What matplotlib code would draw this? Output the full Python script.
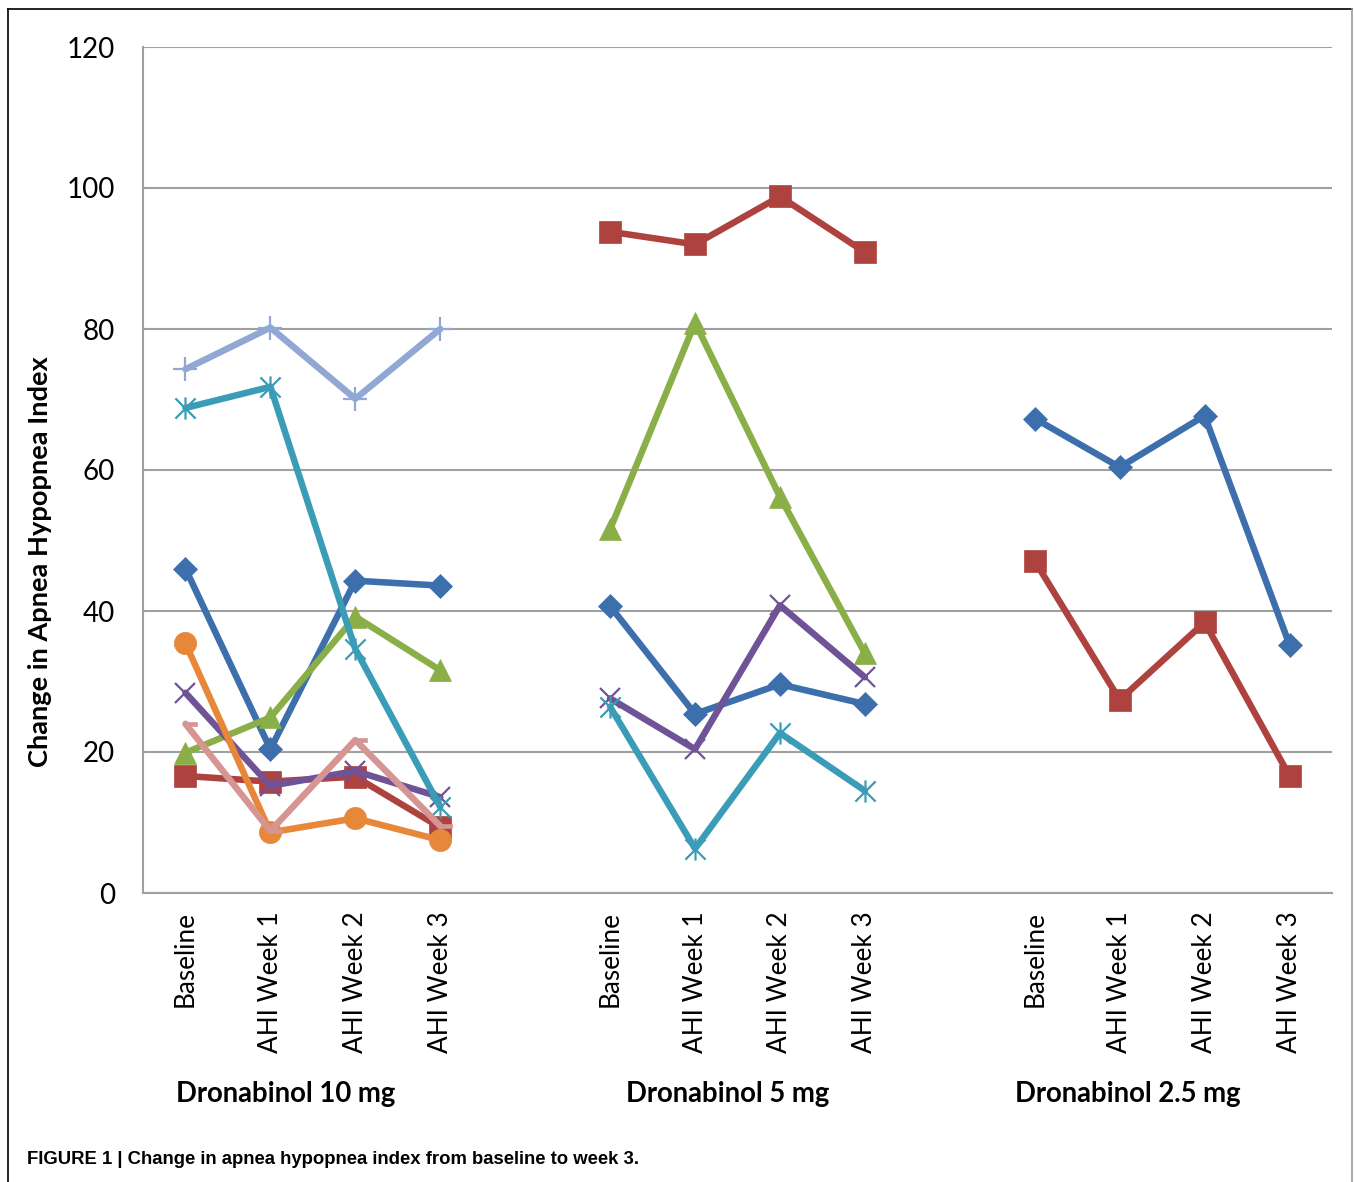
import matplotlib
matplotlib.use("Agg")
import matplotlib.pyplot as plt
from matplotlib.path import Path
from matplotlib.lines import Line2D
import numpy as np

# ---------------- data ----------------
time_points = ["Baseline", "AHI Week 1", "AHI Week 2", "AHI Week 3"]
group_names = ["Dronabinol 10 mg", "Dronabinol 5 mg", "Dronabinol 2.5 mg"]
y_ticks = [0, 20, 40, 60, 80, 100, 120]

# Dronabinol 10 mg (8 subjects)
d10_blue = [46.0, 20.4, 44.3, 43.6]
d10_red = [16.6, 15.8, 16.5, 9.3]
d10_green = [19.9, 24.9, 39.2, 31.6]
d10_purple = [28.4, 15.2, 17.3, 13.6]
d10_teal = [68.8, 71.8, 34.6, 12.2]
d10_orange = [35.4, 8.6, 10.6, 7.5]
d10_lavender = [74.3, 80.2, 70.1, 80.0]
d10_pink = [24.0, 8.8, 21.7, 9.5]

# Dronabinol 5 mg (5 subjects)
d5_blue = [40.7, 25.4, 29.6, 26.8]
d5_red = [93.8, 92.0, 98.8, 90.9]
d5_green = [51.6, 80.9, 56.2, 34.0]
d5_purple = [27.6, 20.4, 40.8, 30.6]
d5_teal = [26.4, 6.3, 22.7, 14.5]

# Dronabinol 2.5 mg (2 subjects)
d25_blue = [67.3, 60.4, 67.7, 35.2]
d25_red = [47.1, 27.4, 38.4, 16.6]

groups = [
    [d10_blue, d10_red, d10_green, d10_purple, d10_teal, d10_orange, d10_lavender, d10_pink],
    [d5_blue, d5_red, d5_green, d5_purple, d5_teal],
    [d25_blue, d25_red],
]

# ---------------- styles ----------------
colors = ["#3D6FAC", "#AE423F", "#8AAE48", "#6F5396", "#3A9CB6", "#E6873A", "#90A8D3", "#D69592"]

star_path = Path(
    [(-0.5, -0.5), (0.5, 0.5), (-0.5, 0.5), (0.5, -0.5), (0, -0.55), (0, 0.55)],
    [Path.MOVETO, Path.LINETO, Path.MOVETO, Path.LINETO, Path.MOVETO, Path.LINETO],
)
dash_path = Path(
    [(0, -0.2), (1, -0.2), (1, 0.2), (0, 0.2), (0, -0.2)],
    [Path.MOVETO, Path.LINETO, Path.LINETO, Path.LINETO, Path.CLOSEPOLY],
)
marker_styles = [
    dict(marker="D", ms=12, filled=True),
    dict(marker="s", ms=15.5, filled=True),
    dict(marker="^", ms=16.5, filled=True),
    dict(marker="x", ms=15, filled=False),
    dict(marker=star_path, ms=16, filled=False),
    dict(marker="o", ms=16, filled=True),
    dict(marker="+", ms=17, filled=False),
    dict(marker=dash_path, ms=17, filled=True),
]

label_font = ["Lato", "DejaVu Sans"]

fig = plt.figure(figsize=(13.54, 11.82), dpi=100)
ax = fig.add_axes([143 / 1354, 1 - 893 / 1182, (1332 - 143) / 1354, (893 - 47) / 1182])

n_slots = len(groups) * (len(time_points) + 1) - 1
tick_pos = []
tick_lab = []
for g, series_list in enumerate(groups):
    x = np.arange(len(time_points)) + g * (len(time_points) + 1)
    tick_pos.extend(x)
    tick_lab.extend(time_points)
    for s, vals in enumerate(series_list):
        st = marker_styles[s]
        c = colors[s]
        kw = dict(color=c, lw=4.7, marker=st["marker"], ms=st["ms"], zorder=3 + s,
                  solid_joinstyle="round", solid_capstyle="round")
        if st["filled"]:
            kw.update(mfc=c, mec=c, mew=0.5)
        else:
            kw.update(mfc="none", mec=c, mew=1.6)
        ax.plot(x, vals, **kw)

ax.set_xlim(-0.5, n_slots - 0.5)
ax.set_ylim(0, 120)
ax.set_yticks(y_ticks)
ax.set_yticklabels([str(v) for v in y_ticks], fontsize=20, family=label_font)
ax.set_xticks(tick_pos)
ax.set_xticklabels(tick_lab, rotation=90, fontsize=18.8, family=label_font, va="top")
ax.tick_params(axis="both", length=0)
ax.tick_params(axis="y", pad=20)
ax.tick_params(axis="x", pad=13)

ax.grid(axis="y", color="#A0A0A0", lw=1.5, zorder=0)
ax.set_axisbelow(True)
for side in ["top", "right"]:
    ax.spines[side].set_visible(False)
for side in ["left", "bottom"]:
    ax.spines[side].set_color("#A0A0A0")
    ax.spines[side].set_linewidth(1.5)

# y-axis title
fig.text(40 / 1354, 1 - 562 / 1182, "Change in Apnea Hypopnea Index", rotation=90,
         ha="center", va="center", fontsize=19.6, fontweight="bold", family=label_font)

# group labels
group_x = [286 / 1354, 728 / 1354, 1128 / 1354]
for gx, name in zip(group_x, group_names):
    fig.text(gx, 1 - 1094 / 1182, name, ha="center", va="center", fontsize=19.8,
             fontweight="bold", family=label_font)

# caption
fig.text(27 / 1354, 1 - 1160 / 1182,
         "FIGURE 1 | Change in apnea hypopnea index from baseline to week 3.",
         ha="left", va="center", fontsize=13.3, fontweight="bold",
         family=["Liberation Sans Narrow", "Liberation Sans", "DejaVu Sans"])

# frame around figure panel
fig.add_artist(Line2D([8 / 1354, 1352 / 1354], [1 - 9 / 1182, 1 - 9 / 1182],
                      transform=fig.transFigure, color="black", lw=1.2))
fig.add_artist(Line2D([8 / 1354, 8 / 1354], [1 - 9 / 1182, 0],
                      transform=fig.transFigure, color="black", lw=1.2))
fig.add_artist(Line2D([1352 / 1354, 1352 / 1354], [1 - 9 / 1182, 0],
                      transform=fig.transFigure, color="#999999", lw=1.2))

fig.savefig("out.png", dpi=100)
